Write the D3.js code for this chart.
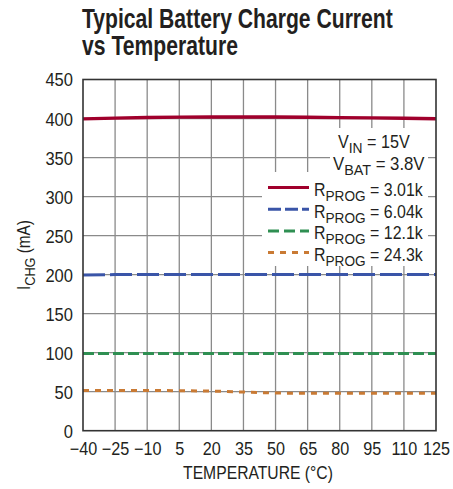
<!DOCTYPE html>
<html><head><meta charset="utf-8">
<script src="https://cdn.jsdelivr.net/npm/d3@7"></script>
<style>
body{margin:0;background:#fff;}
text{font-family:"Liberation Sans",Arial,sans-serif;fill:#231f20;}
</style></head>
<body><svg id="c" width="453" height="489"></svg>
<script>
const temps = [-40,-25,-10,5,20,35,50,65,80,95,110,125];
const xTicks = [-40,-25,-10,5,20,35,50,65,80,95,110,125];
const yTicks = [0,50,100,150,200,250,300,350,400,450];
const r301 = [399.5,400.5,401.3,401.8,402,402,402,401.7,401.2,400.8,400.3,399.8];
const r604 = [199.5,200,200,200,200,200,200,200,200,200,200,200];
const r121 = [99,99,99,99,99,99,99,99,99,99,99,99];
const r243 = [51.5,51.5,51.5,51.3,50.8,49.5,48.2,48,48,48,48,48];
const seriesNames = ["3.01k","6.04k","12.1k","24.3k"];
const seriesColors = ["#a0002c","#3a55a8","#2f8f52","#c97a34"];
const seriesDash = [null,"22,5","11,4","6,6"];
const legendDash = [null,"13,4","11,5","6,6"];
const seriesData = [r301,r604,r121,r243];

const svg = d3.select("#c");
const L=83, R=436, T=79.5, B=430.7;
const x = d3.scaleLinear().domain([-40,125]).range([L,R]);
const y = d3.scaleLinear().domain([0,450]).range([B,T]);

function squeeze(node, s){
  const x0 = +(node.getAttribute("x")||0);
  node.setAttribute("transform",`translate(${x0},0) scale(${s},1) translate(${-x0},0)`);
}
function fitTo(node, w){
  squeeze(node, w / node.getBBox().width);
}

// title
const t1 = svg.append("text").attr("x",82).attr("y",28)
  .style("font-size","27px").style("font-weight","bold").text("Typical Battery Charge Current");
fitTo(t1.node(),311);
const t2 = svg.append("text").attr("x",82).attr("y",55)
  .style("font-size","27px").style("font-weight","bold").text("vs Temperature");
fitTo(t2.node(),156);

// grid
const g = svg.append("g");
g.selectAll(".vg").data(xTicks.slice(1,-1)).enter().append("line")
  .attr("x1",d=>x(d)).attr("x2",d=>x(d)).attr("y1",T).attr("y2",B)
  .attr("stroke","#8a8a8a").attr("stroke-width",1.3);
g.selectAll(".hg").data(yTicks.slice(1,-1)).enter().append("line")
  .attr("y1",d=>y(d)).attr("y2",d=>y(d)).attr("x1",L).attr("x2",R)
  .attr("stroke","#8a8a8a").attr("stroke-width",1.3);

// axes labels via d3 axes
const xAxis = svg.append("g").attr("transform",`translate(0,${B})`)
  .call(d3.axisBottom(x).tickValues(xTicks).tickSize(0).tickPadding(12)
    .tickFormat(d=> d<0 ? "\u2212"+Math.abs(d) : d));
xAxis.select(".domain").remove();
xAxis.selectAll("text").style("font-size","18px").attr("fill","#231f20")
  .each(function(){ squeeze(this,0.9); });

const yAxis = svg.append("g").attr("transform",`translate(${L},0)`)
  .call(d3.axisLeft(y).tickValues(yTicks).tickSize(0).tickPadding(10));
yAxis.select(".domain").remove();
yAxis.selectAll("text").style("font-size","18px").attr("fill","#231f20").attr("dy","0.36em")
  .each(function(){ squeeze(this,0.92); });

// legend backgrounds
svg.append("rect").attr("x",330).attr("y",128).attr("width",98).attr("height",44).attr("fill","#fff");
svg.append("rect").attr("x",262).attr("y",172).attr("width",166).attr("height",94).attr("fill","#fff");

// series
const line = d3.line().x((d,i)=>x(temps[i])).y(d=>y(d));
seriesData.forEach((s,k)=>{
  svg.append("path").datum(s).attr("d",line).attr("fill","none")
    .attr("stroke",seriesColors[k]).attr("stroke-width",k===0?3.4:3)
    .attr("stroke-dasharray",seriesDash[k]);
});

// border
svg.append("rect").attr("x",L).attr("y",T).attr("width",R-L).attr("height",B-T)
  .attr("fill","none").attr("stroke","#333").attr("stroke-width",1.6);

// axis titles
const xt = svg.append("text").attr("x",258).attr("y",479).attr("text-anchor","middle")
  .style("font-size","18px").text("TEMPERATURE (°C)");
fitTo(xt.node(),150);
const ytg = svg.append("g").attr("transform",`translate(30,${(T+B)/2}) rotate(-90)`);
const yt = ytg.append("text").attr("x",0).attr("y",0)
  .attr("text-anchor","middle").style("font-size","18px");
yt.append("tspan").text("I");
yt.append("tspan").attr("dy",5).style("font-size","15px").text("CHG");
yt.append("tspan").attr("dy",-5).text(" (mA)");
fitTo(yt.node(),70);

// conditions
function sub(xx,yy,a,b,c,w){
  const t=svg.append("text").attr("x",xx).attr("y",yy).style("font-size","17.5px");
  t.append("tspan").text(a);
  t.append("tspan").attr("dy",5).style("font-size","15px").text(b);
  t.append("tspan").attr("dy",-5).text(c);
  fitTo(t.node(),w);
  return t;
}
sub(338,148,"V","IN"," = 15V",72);
sub(333,170,"V","BAT"," = 3.8V",92);

// legend
seriesNames.forEach((n,k)=>{
  const yy = 187.5 + k*21.7;
  svg.append("line").attr("x1",268).attr("x2",309).attr("y1",yy).attr("y2",yy)
    .attr("stroke",seriesColors[k]).attr("stroke-width",3)
    .attr("stroke-dasharray",legendDash[k]);
  sub(314,yy+8.5,"R","PROG"," = "+n, 109);
});
</script></body></html>
